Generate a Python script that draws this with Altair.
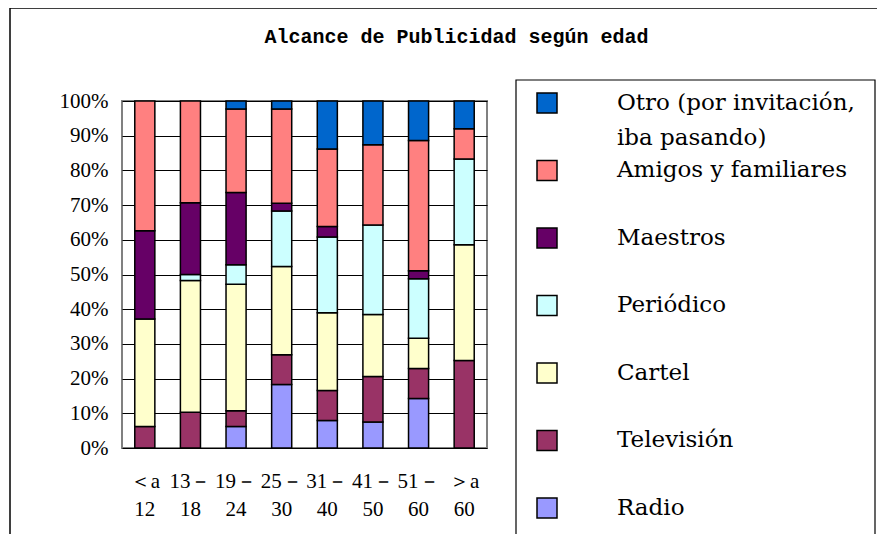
import altair as alt
import pandas as pd

title_text = "Alcance de Publicidad según edad"

ages = ["＜a\n12", "13－\n18", "19－\n24", "25－\n30", "31－\n40", "41－\n50", "51－\n60", "＞a\n60"]
series = ["Radio", "Televisión", "Cartel", "Periódico", "Maestros",
          "Amigos y familiares", "Otro (por invitación, iba pasando)"]
colors = ["#9999FF", "#993366", "#FFFFCC", "#CCFFFF", "#660066", "#FF8080", "#0066CC"]

radio = [0, 0, 6.2, 18.3, 7.9, 7.5, 14.3, 0]
television = [6.2, 10.3, 4.5, 8.6, 8.7, 13.1, 8.6, 25.2]
cartel = [31.0, 38.0, 36.5, 25.4, 22.4, 17.9, 8.7, 33.4]
periodico = [0, 1.7, 5.6, 16.0, 21.8, 25.8, 17.2, 24.7]
maestros = [25.4, 20.7, 20.8, 2.2, 3.0, 0, 2.3, 0]
amigos = [37.4, 29.3, 24.1, 27.2, 22.4, 23.1, 37.5, 8.7]
otro = [0, 0, 2.3, 2.3, 13.8, 12.6, 11.4, 8.0]

legend_labels = ["Otro (por invitación,\niba pasando)", "Amigos y familiares", "Maestros",
                 "Periódico", "Cartel", "Televisión", "Radio"]

values = [radio, television, cartel, periodico, maestros, amigos, otro]
rows = []
for i, a in enumerate(ages):
    for j, s in enumerate(series):
        v = values[j][i]
        if v > 0:
            rows.append({"age": a, "series": s, "value": v, "order": j})
df = pd.DataFrame(rows)

leg_order = series[::-1]
leg_df = pd.DataFrame({"series": leg_order, "label": legend_labels})

color_scale = alt.Scale(domain=series, range=colors)

bars = alt.Chart(df).mark_bar(stroke="black", strokeWidth=1.5).encode(
    x=alt.X("age:N", sort=ages,
            scale=alt.Scale(paddingInner=0.56, paddingOuter=0.28),
            axis=alt.Axis(title=None, labelAngle=0, labelExpr="split(datum.label, '\\n')",
                          labelFont="Liberation Serif", labelFontSize=21, labelLineHeight=28,
                          labelPadding=22, ticks=False, domain=False, labelColor="black",
                          labelOverlap=False)),
    y=alt.Y("value:Q", stack="normalize", scale=alt.Scale(domain=[0, 1]),
            axis=alt.Axis(title=None, format=".0%", values=[i / 10 for i in range(11)],
                          grid=True, gridColor="black", gridWidth=1, ticks=False, domain=False,
                          labelPadding=14, labelFont="Liberation Serif", labelFontSize=21,
                          labelColor="black", labelOverlap=False)),
    color=alt.Color("series:N", scale=color_scale, legend=None),
    order=alt.Order("order:Q", sort="ascending"),
)

ly = alt.Y("series:N", scale=alt.Scale(type="point", domain=leg_order, range=[2, 407], padding=0),
           axis=None)

squares = alt.Chart(leg_df).mark_square(size=400, stroke="black", strokeWidth=1.5,
                                        opacity=1, filled=True).encode(
    x=alt.value(425), y=ly,
    color=alt.Color("series:N", scale=color_scale, legend=None),
)

texts = alt.Chart(leg_df).mark_text(align="left", baseline="line-top", dy=-17.5, lineBreak="\n",
                                    lineHeight=35, font="DejaVu Serif", fontSize=23,
                                    color="black").encode(
    x=alt.value(495), y=ly, text="label:N",
)

one = pd.DataFrame({"k": [0]})
frame = alt.Chart(one).mark_rect(filled=False, stroke="black", strokeWidth=1.5).encode(
    x=alt.value(-112), x2=alt.value(2000), y=alt.value(-93), y2=alt.value(2000))
legbox = alt.Chart(one).mark_rect(filled=False, stroke="black", strokeWidth=1.2).encode(
    x=alt.value(394), x2=alt.value(753), y=alt.value(-21), y2=alt.value(2000))

chart = alt.layer(frame, legbox, bars, squares, texts).resolve_scale(y="independent").properties(
    width=365, height=347,
    autosize=alt.AutoSizeParams(type="none"),
    padding={"left": 114, "top": 93, "right": 390, "bottom": 86},
    title=alt.TitleParams(title_text, font="Liberation Mono", fontSize=20, fontWeight="bold",
                          anchor="middle", frame="group", dx=152, dy=60, offset=0,
                          baseline="bottom", color="black"),
).configure(background="white").configure_view(stroke="#808080", strokeWidth=2)

chart.save("out.html", embed_options={"renderer": "svg", "actions": False})
